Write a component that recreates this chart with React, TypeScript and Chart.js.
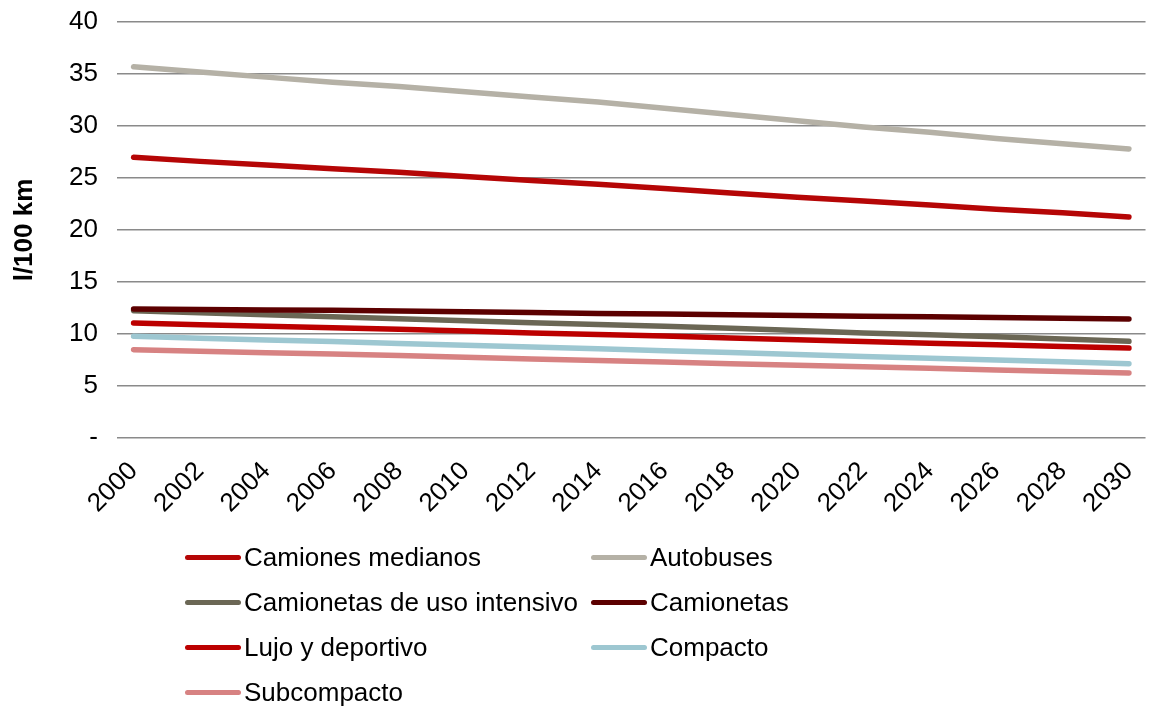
import React, { useEffect, useRef } from "react";
import { Chart, registerables } from "chart.js";

Chart.register(...registerables);

const years: string[] = [
  "2000", "2001", "2002", "2003", "2004", "2005", "2006", "2007", "2008", "2009",
  "2010", "2011", "2012", "2013", "2014", "2015", "2016", "2017", "2018", "2019",
  "2020", "2021", "2022", "2023", "2024", "2025", "2026", "2027", "2028", "2029", "2030",
];

// Values read at even years (odd years left empty, joined by the line)
const camionesMedianos = [27.0, null, 26.6, null, 26.25, null, 25.9, null, 25.55, null, 25.15, null, 24.75, null, 24.4, null, 24.0, null, 23.55, null, 23.15, null, 22.8, null, 22.4, null, 22.0, null, 21.65, null, 21.25];
const autobuses = [35.7, null, 35.2, null, 34.7, null, 34.2, null, 33.8, null, 33.3, null, 32.8, null, 32.3, null, 31.7, null, 31.1, null, 30.5, null, 29.9, null, 29.4, null, 28.8, null, 28.3, null, 27.8];
const camionetasUsoIntensivo = [12.25, null, 12.05, null, 11.85, null, 11.67, null, 11.48, null, 11.28, null, 11.08, null, 10.92, null, 10.75, null, 10.55, null, 10.33, null, 10.1, null, 9.93, null, 9.73, null, 9.52, null, 9.3];
const camionetas = [12.4, null, 12.36, null, 12.32, null, 12.28, null, 12.22, null, 12.14, null, 12.06, null, 11.98, null, 11.92, null, 11.86, null, 11.79, null, 11.72, null, 11.65, null, 11.58, null, 11.51, null, 11.44];
const lujoDeportivo = [11.06, null, 10.9, null, 10.75, null, 10.6, null, 10.45, null, 10.28, null, 10.1, null, 9.95, null, 9.8, null, 9.62, null, 9.45, null, 9.28, null, 9.12, null, 8.96, null, 8.8, null, 8.65];
const compacto = [9.78, null, 9.6, null, 9.43, null, 9.27, null, 9.1, null, 8.92, null, 8.75, null, 8.58, null, 8.4, null, 8.22, null, 8.03, null, 7.85, null, 7.67, null, 7.5, null, 7.33, null, 7.15];
const subcompacto = [8.5, null, 8.35, null, 8.2, null, 8.07, null, 7.93, null, 7.77, null, 7.6, null, 7.45, null, 7.3, null, 7.15, null, 7.0, null, 6.85, null, 6.7, null, 6.55, null, 6.4, null, 6.25];

const seriesNames = [
  "Camiones medianos",
  "Autobuses",
  "Camionetas de uso intensivo",
  "Camionetas",
  "Lujo y deportivo",
  "Compacto",
  "Subcompacto",
];
const seriesValues = [camionesMedianos, autobuses, camionetasUsoIntensivo, camionetas, lujoDeportivo, compacto, subcompacto];
const seriesColors = ["#B50606", "#B5B1A6", "#6B6755", "#5C0000", "#BC0000", "#9DC7D1", "#D78282"];

const yTicks = [0, 5, 10, 15, 20, 25, 30, 35, 40];
const yTitle = "l/100 km";

const FONT = "'Liberation Sans', Arial, sans-serif";

export default function App() {
  const canvasRef = useRef<HTMLCanvasElement | null>(null);

  useEffect(() => {
    if (!canvasRef.current) return;
    const chart = new Chart(canvasRef.current, {
      type: "line",
      data: {
        labels: years,
        datasets: seriesNames.map((name, i) => ({
          label: name,
          data: seriesValues[i],
          borderColor: seriesColors[i],
          backgroundColor: seriesColors[i],
          borderWidth: 5.5,
          borderCapStyle: "round",
          borderJoinStyle: "round",
          pointRadius: 0,
          pointHoverRadius: 0,
          tension: 0,
          spanGaps: true,
          fill: false,
          order: -i,
        })),
      },
      options: {
        animation: false,
        responsive: true,
        maintainAspectRatio: false,
        layout: { padding: { left: 0, right: 0, top: 0, bottom: 0 } },
        plugins: {
          legend: { display: false },
          tooltip: { enabled: false },
        },
        scales: {
          x: {
            type: "category",
            offset: true,
            grid: { display: false, drawTicks: false },
            border: { display: false },
            ticks: {
              autoSkip: false,
              maxRotation: 45,
              minRotation: 45,
              padding: 18,
              color: "#000",
              font: { family: FONT, size: 26 },
              callback: (_v: any, idx: number) => (idx % 2 === 0 ? years[idx] : ""),
            },
          },
          y: {
            min: 0,
            max: 40,
            afterBuildTicks: (axis: any) => {
              axis.ticks = yTicks.map((v) => ({ value: v }));
            },
            afterFit: (axis: any) => {
              axis.width = 109;
            },
            grid: { color: "#8A8A8A", lineWidth: 1.5, drawTicks: false },
            border: { display: false },
            ticks: {
              padding: 19,
              color: "#000",
              font: { family: FONT, size: 26, lineHeight: 1 },
              callback: (v: any) => (Number(v) === 0 ? "-" : String(v)),
            },
            title: {
              display: true,
              text: yTitle,
              color: "#000",
              font: { family: FONT, size: 26, weight: "bold" },
              padding: { top: 1, bottom: 1 },
            },
          },
        },
      },
    });
    return () => chart.destroy();
  }, []);

  const rows = [
    [0, 1],
    [2, 3],
    [4, 5],
    [6],
  ];
  const colX = [177, 583];
  const rowY = [549, 594, 639, 684];

  return (
    <div style={{ position: "fixed", left: 8, top: 8, width: 1145, height: 699, overflow: "hidden", fontFamily: FONT }}>
      <div style={{ position: "absolute", left: 0, top: -18, width: 1161, height: 547 }}>
        <canvas ref={canvasRef} />
      </div>
      {rows.map((row, r) =>
        row.map((si, c) => (
          <div
            key={si}
            style={{
              position: "absolute",
              left: colX[c],
              top: rowY[r] - 15,
              height: 30,
              display: "flex",
              alignItems: "center",
              whiteSpace: "nowrap",
            }}
          >
            <span
              style={{
                display: "inline-block",
                width: 56,
                height: 5,
                borderRadius: 3,
                background: seriesColors[si],
                marginRight: 3,
              }}
            />
            <span style={{ fontSize: 26, color: "#000", lineHeight: "30px" }}>{seriesNames[si]}</span>
          </div>
        ))
      )}
    </div>
  );
}
